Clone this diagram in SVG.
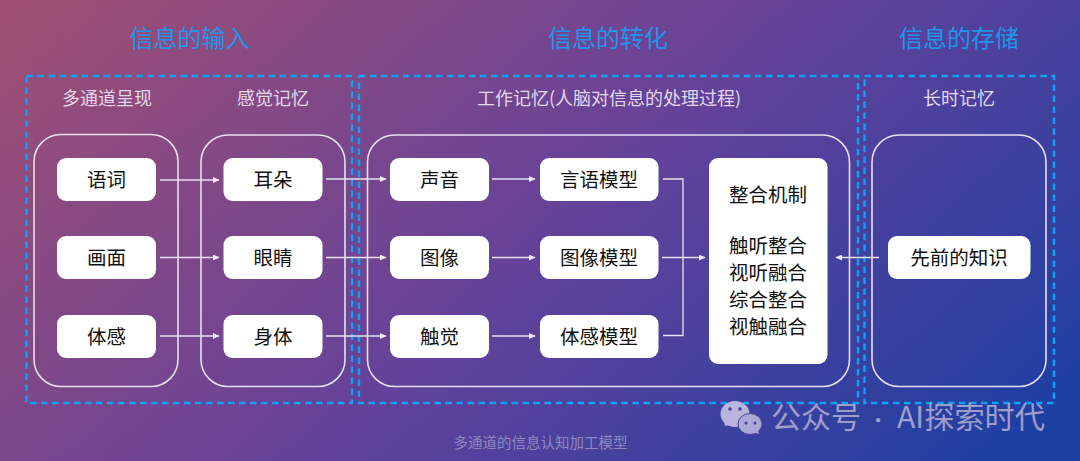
<svg xmlns="http://www.w3.org/2000/svg" width="1080" height="461" viewBox="0 0 1080 461">
<style>
text{font-family:"Noto Sans CJK SC","Liberation Sans",sans-serif;text-anchor:middle}
.h{font-size:24px;fill:#1f95ea}
.s{font-size:18px;fill:#e2d8ea}
.n{font-size:19.500px;fill:#111}
.dash{fill:none;stroke:#0aa2f5;stroke-width:2.4;stroke-dasharray:6.5 4.5}
.box{fill:none;stroke:#e6e0ee;stroke-width:1.6}
.w{fill:#fff}
.c{fill:none;stroke:#e8e2f0;stroke-width:1.3}
.wm{font-size:30px;fill:#9c9ecb;text-anchor:start}
</style>
<defs>
<linearGradient id="bg" gradientUnits="userSpaceOnUse" x1="-23" y1="-26" x2="740" y2="838">
<stop offset="0" stop-color="#a5506f"/><stop offset=".5" stop-color="#64429a"/><stop offset=".92" stop-color="#1b3fa3"/><stop offset="1" stop-color="#1b3fa3"/>
</linearGradient>
<marker id="a" markerWidth="7" markerHeight="6" refX="6" refY="3" orient="auto" markerUnits="userSpaceOnUse"><path d="M0 0L6.5 3L0 6Z" fill="#eee8f4"/></marker>
</defs>
<rect width="1080" height="461" fill="url(#bg)"/>
<g id="titles">
<text class="h" x="189.500" y="47">信息的输入</text>
<text class="h" x="608" y="47">信息的转化</text>
<text class="h" x="959" y="47">信息的存储</text>
<text class="s" x="107" y="105">多通道呈现</text>
<text class="s" x="273" y="105">感觉记忆</text>
<text class="s" x="609" y="105">工作记忆(人脑对信息的处理过程)</text>
<text class="s" x="959" y="105">长时记忆</text>
</g>
<g id="regions">
<rect class="dash" x="26.500" y="76" width="325.500" height="327"/>
<rect class="dash" x="359" y="76" width="499" height="327"/>
<rect class="dash" x="864.500" y="76" width="189.500" height="327"/>
<rect class="box" x="34" y="134.500" width="144" height="252" rx="27"/>
<rect class="box" x="201" y="135" width="144" height="251.500" rx="27"/>
<rect class="box" x="367.500" y="135" width="482" height="251.500" rx="27"/>
<rect class="box" x="872" y="135" width="174" height="251.500" rx="27"/>
</g>
<g id="connectors">
<path class="c" marker-end="url(#a)" d="M160 180H219"/>
<path class="c" marker-end="url(#a)" d="M160 257.500H219"/>
<path class="c" marker-end="url(#a)" d="M160 336H219"/>
<path class="c" marker-end="url(#a)" d="M326 179H386"/>
<path class="c" marker-end="url(#a)" d="M326 257.500H386"/>
<path class="c" marker-end="url(#a)" d="M326 336H386"/>
<path class="c" marker-end="url(#a)" d="M492 179H535"/>
<path class="c" marker-end="url(#a)" d="M492 257.500H535"/>
<path class="c" marker-end="url(#a)" d="M492 336H535"/>
<path class="c" d="M663 179H683V335.500H663"/>
<path class="c" marker-end="url(#a)" d="M662 257.500H705"/>
<path class="c" marker-end="url(#a)" d="M879 257.500H836"/>
</g>
<g id="n-yuci"><rect class="w" x="57" y="158" width="99" height="43" rx="9"/><text class="n" x="106.500" y="187">语词</text></g>
<g id="n-huamian"><rect class="w" x="57" y="236" width="99" height="43" rx="9"/><text class="n" x="106.500" y="265">画面</text></g>
<g id="n-tigan"><rect class="w" x="57" y="315" width="99" height="43" rx="9"/><text class="n" x="106.500" y="344">体感</text></g>
<g id="n-erduo"><rect class="w" x="223.500" y="158" width="99" height="43" rx="9"/><text class="n" x="273" y="187">耳朵</text></g>
<g id="n-yanjing"><rect class="w" x="223.500" y="236" width="99" height="43" rx="9"/><text class="n" x="273" y="265">眼睛</text></g>
<g id="n-shenti"><rect class="w" x="223.500" y="315" width="99" height="43" rx="9"/><text class="n" x="273" y="344">身体</text></g>
<g id="n-shengyin"><rect class="w" x="390" y="158" width="99" height="43" rx="9"/><text class="n" x="439.500" y="187">声音</text></g>
<g id="n-tuxiang"><rect class="w" x="390" y="236" width="99" height="43" rx="9"/><text class="n" x="439.500" y="265">图像</text></g>
<g id="n-chujue"><rect class="w" x="390" y="315" width="99" height="43" rx="9"/><text class="n" x="439.500" y="344">触觉</text></g>
<g id="n-yanyu"><rect class="w" x="540" y="158" width="118.500" height="43" rx="9"/><text class="n" x="599" y="187">言语模型</text></g>
<g id="n-txmx"><rect class="w" x="540" y="236" width="118.500" height="43" rx="9"/><text class="n" x="599" y="265">图像模型</text></g>
<g id="n-tgmx"><rect class="w" x="540" y="315" width="118.500" height="43" rx="9"/><text class="n" x="599" y="344">体感模型</text></g>
<g id="n-zhenghe"><rect class="w" x="709" y="158" width="118.500" height="206" rx="9"/>
<text class="n" x="768" y="202">整合机制</text>
<text class="n" x="768" y="253">触听整合</text>
<text class="n" x="768" y="280">视听融合</text>
<text class="n" x="768" y="307">综合整合</text>
<text class="n" x="768" y="334">视触融合</text></g>
<g id="n-xianqian"><rect class="w" x="888" y="236" width="142.500" height="43" rx="9"/><text class="n" x="959" y="265">先前的知识</text></g>
<g id="watermark" fill="#b9b4dc">
<ellipse cx="735" cy="414" rx="14.500" ry="13"/><path d="M724 421L725 426 L733 424Z"/>
<ellipse cx="750" cy="424" rx="12" ry="10.500" fill="#a9a8d6" stroke="#4a3f9c" stroke-width="1"/><path d="M753 432L759 434 L757 428Z" fill="#a9a8d6"/>
<circle cx="730" cy="409" r="1.800" fill="#4a3f9c"/><circle cx="740" cy="409" r="1.800" fill="#4a3f9c"/>
<circle cx="746" cy="423" r="1.500" fill="#4a3f9c"/><circle cx="755" cy="423" r="1.500" fill="#4a3f9c"/>
<text class="wm" x="771" y="428">公众号</text>
<text class="wm" x="878" y="428" style="text-anchor:middle;font-size:20px">·</text>
<text class="wm" x="897" y="428" textLength="148" lengthAdjust="spacingAndGlyphs">AI探索时代</text>
</g>
<text id="caption" x="540.500" y="448" style="font-size:14.500px;fill:#8f86c0">多通道的信息认知加工模型</text>
</svg>
